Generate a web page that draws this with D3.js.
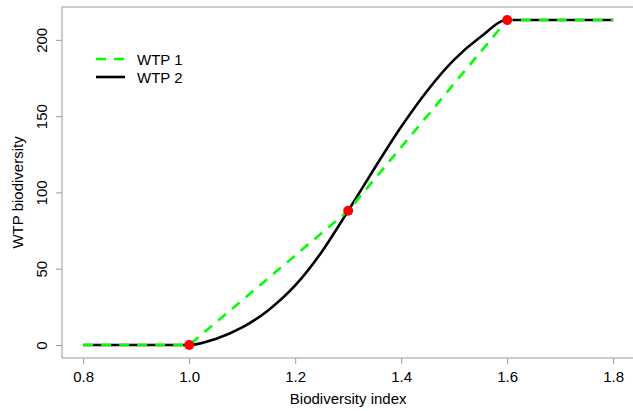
<!DOCTYPE html>
<html>
<head>
<meta charset="utf-8">
<script src="https://cdn.jsdelivr.net/npm/d3@7"></script>
<style>
  body { margin: 0; background: #fff; }
  text { font-family: "Liberation Sans", Arial, sans-serif; fill: #000; }
</style>
</head>
<body>
<div id="chart"></div>
<script>
// data
let wtp1X = [0.8, 1.0, 1.3, 1.6, 1.8]
let wtp1Y = [0, 0, 88, 213, 213]
let wtp2X = [0.8, 1.0, 1.05, 1.1, 1.15, 1.2, 1.25, 1.3, 1.35, 1.4, 1.45, 1.5, 1.55, 1.6, 1.8]
let wtp2Y = [0, 0, 4, 11.5, 23, 39, 61, 88, 116, 143, 167, 187, 202, 213, 213]
let pointX = [1.0, 1.3, 1.6]
let pointY = [0, 88, 213]
let xTicks = [0.8, 1.0, 1.2, 1.4, 1.6, 1.8]
let yTicks = [0, 50, 100, 150, 200]
let legendNames = ['WTP 1', 'WTP 2']

let width = 633, height = 411

let svg = d3.select('#chart')
            .append('svg')
                .attr('width', width)
                .attr('height', height)

// R style: data range widened by 4% on each side
let x = d3.scaleLinear().domain([0.76, 1.84]).range([62, 634.4])
let y = d3.scaleLinear().domain([-8.52, 221.52]).range([358, 7])

// box (right edge falls outside the window)
svg.append('rect')
    .attr('x', x.range()[0]).attr('y', y.range()[1])
    .attr('width', x.range()[1] - x.range()[0])
    .attr('height', y.range()[0] - y.range()[1])
    .attr('fill', 'none').attr('stroke', '#9a9a9a').attr('stroke-width', 1)

// axes
let xAxis = svg.append('g')
    .attr('transform', `translate(0,${y.range()[0]})`)
    .call(d3.axisBottom(x).tickValues(xTicks).tickFormat(d3.format('.1f')).tickSize(6).tickPadding(7))
let yAxis = svg.append('g')
    .attr('transform', `translate(${x.range()[0]},0)`)
    .call(d3.axisLeft(y).tickValues(yTicks).tickSize(6))

;[xAxis, yAxis].forEach(a => {
    a.select('.domain').remove()
    a.selectAll('line').attr('stroke', '#9a9a9a')
    a.selectAll('text').style('font-size', '15px').attr('font-family', null)
})
// rotated y labels, centered on the tick
yAxis.selectAll('.tick text')
    .attr('text-anchor', 'middle')
    .attr('transform', 'rotate(-90)')
    .attr('x', 0).attr('y', -15).attr('dy', 0)

svg.append('text')
    .attr('x', (x(0.8) + x(1.8)) / 2).attr('y', 404)
    .attr('text-anchor', 'middle').style('font-size', '15px')
    .text('Biodiversity index')
svg.append('text')
    .attr('transform', `translate(23,${(y(0) + y(200)) / 2}) rotate(-90)`)
    .attr('text-anchor', 'middle').style('font-size', '15px')
    .text('WTP biodiversity')

let line = d3.line().x(d => x(d[0])).y(d => y(d[1]))

// WTP 2: smooth curve
svg.append('path')
    .datum(d3.zip(wtp2X, wtp2Y))
    .attr('d', line.curve(d3.curveMonotoneX))
    .attr('fill', 'none').attr('stroke', '#000').attr('stroke-width', 2.6)

// WTP 1: dashed piecewise line
svg.append('path')
    .datum(d3.zip(wtp1X, wtp1Y))
    .attr('d', line.curve(d3.curveLinear))
    .attr('fill', 'none').attr('stroke', '#00ff00').attr('stroke-width', 2.6)
    .attr('stroke-dasharray', '10,8')

svg.selectAll('circle.pt')
    .data(d3.zip(pointX, pointY))
    .enter()
    .append('circle')
    .attr('class', 'pt')
    .attr('cx', d => x(d[0])).attr('cy', d => y(d[1]))
    .attr('r', 5)
    .attr('fill', '#ff0000')

// legend
let legend = svg.append('g')
legendNames.forEach((name, i) => {
    let ly = 59 + i * 18
    legend.append('line')
        .attr('x1', 96).attr('x2', 125).attr('y1', ly).attr('y2', ly)
        .attr('stroke', i == 0 ? '#00ff00' : '#000').attr('stroke-width', 2.6)
        .attr('stroke-dasharray', i == 0 ? '10,8' : null)
    legend.append('text')
        .attr('x', 137).attr('y', ly + 5.5)
        .style('font-size', '15px')
        .text(name)
})
</script>
</body>
</html>
